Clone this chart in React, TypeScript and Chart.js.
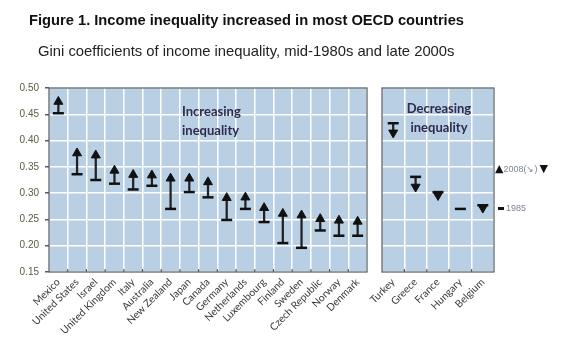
import React, { useEffect, useRef } from "react";
import { Chart, registerables } from "chart.js";

Chart.register(...registerables);

// ---------- data ----------
const increasingCountries = [
  "Mexico", "United States", "Israel", "United Kingdom", "Italy", "Australia",
  "New Zealand", "Japan", "Canada", "Germany", "Netherlands", "Luxembourg",
  "Finland", "Sweden", "Czech Republic", "Norway", "Denmark",
];
const increasingMid1980s = [
  0.452, 0.336, 0.325, 0.318, 0.307, 0.314, 0.270, 0.302, 0.292, 0.249, 0.270,
  0.245, 0.205, 0.196, 0.229, 0.219, 0.219,
];
const increasingLate2000s = [
  0.474, 0.376, 0.372, 0.343, 0.335, 0.334, 0.328, 0.328, 0.321, 0.291, 0.292,
  0.272, 0.261, 0.258, 0.251, 0.248, 0.246,
];

const decreasingCountries = ["Turkey", "Greece", "France", "Hungary", "Belgium"];
const decreasingMid1980s = [0.433, 0.331, 0.302, 0.270, 0.277];
const decreasingLate2000s: (number | null)[] = [0.415, 0.312, 0.296, null, 0.272];

const yTickValues = [0.15, 0.2, 0.25, 0.3, 0.35, 0.4, 0.45, 0.5];

// ---------- styles ----------
const PLOT_BG = "#b9cfe4";
const FRAME = "#555a60";
const MARK = "#111111";

const framePlugin = {
  id: "frameAndBg",
  beforeDraw(chart: any) {
    const { ctx, chartArea: a } = chart;
    ctx.save();
    ctx.fillStyle = PLOT_BG;
    ctx.fillRect(a.left, a.top, a.right - a.left, a.bottom - a.top);
    ctx.restore();
  },
  afterDraw(chart: any) {
    const { ctx, chartArea: a } = chart;
    const xs = chart.scales.x;
    ctx.save();
    ctx.strokeStyle = FRAME;
    ctx.lineWidth = 1.2;
    ctx.strokeRect(a.left, a.top, a.right - a.left, a.bottom - a.top);
    const n = xs.ticks.length;
    for (let i = 1; i < n; i++) {
      const x = (xs.getPixelForTick(i - 1) + xs.getPixelForTick(i)) / 2;
      ctx.beginPath();
      ctx.moveTo(x, a.bottom);
      ctx.lineTo(x, a.bottom - 3);
      ctx.stroke();
    }
    ctx.restore();
  },
};

function makeConfig(
  labels: string[],
  v85: (number | null)[],
  v08: (number | null)[],
  padLeft: number,
  padRight: number,
  showY: boolean
): any {
  const stems = labels.map((_, i) => {
    const a = v85[i];
    const b = v08[i];
    if (a == null || b == null) return null;
    return [Math.min(a, b), Math.max(a, b)];
  });
  return {
    type: "bar",
    data: {
      labels,
      datasets: [
        {
          type: "line",
          label: "1985",
          data: v85,
          showLine: false,
          pointStyle: "line",
          pointRadius: 5.5,
          pointHoverRadius: 5.5,
          pointBorderColor: MARK,
          pointBorderWidth: 2.5,
          order: 0,
        },
        {
          type: "line",
          label: "2008",
          data: v08,
          showLine: false,
          pointStyle: "triangle",
          pointRadius: 5.2,
          pointHoverRadius: 5.2,
          pointBackgroundColor: MARK,
          pointBorderColor: MARK,
          pointBorderWidth: 1,
          pointRotation: (ctx: any) => {
            const i = ctx.dataIndex;
            const a = v85[i];
            const b = v08[i];
            return a != null && b != null && b < a ? 180 : 0;
          },
          order: 1,
        },
        {
          type: "bar",
          label: "change",
          data: stems,
          backgroundColor: "#222222",
          borderWidth: 0,
          barThickness: 1.6,
          order: 2,
        },
      ],
    },
    options: {
      responsive: false,
      animation: false,
      events: [],
      layout: { padding: { left: padLeft, right: padRight, top: 88, bottom: 0 } },
      plugins: {
        legend: { display: false },
        tooltip: { enabled: false },
        title: { display: false },
      },
      scales: {
        x: {
          type: "category",
          offset: true,
          grid: { color: "#ffffff", lineWidth: 1.5, offset: true, drawTicks: false },
          border: { display: false },
          ticks: {
            autoSkip: false,
            minRotation: 45,
            maxRotation: 45,
            padding: 4,
            color: "#3a3a3a",
            font: { family: "Lato, 'Open Sans', sans-serif", size: 10.3 },
          },
          afterFit: (s: any) => {
            s.height = 77;
          },
        },
        y: {
          min: 0.15,
          max: 0.5,
          afterBuildTicks: (s: any) => {
            s.ticks = yTickValues.map((v) => ({ value: v }));
          },
          grid: {
            color: "#ffffff",
            lineWidth: 1.5,
            drawTicks: showY,
            tickLength: 4,
            tickColor: FRAME,
          },
          border: { display: false },
          ticks: {
            display: showY,
            padding: 6,
            color: "#5e5b3e",
            font: { family: "'Liberation Sans', Arial, sans-serif", size: 10 },
            callback: (v: any) => Number(v).toFixed(2),
          },
          afterFit: (s: any) => {
            s.width = showY ? 49 : 0;
          },
        },
      },
    },
    plugins: [framePlugin],
  };
}

export default function App() {
  const leftRef = useRef<HTMLCanvasElement>(null);
  const rightRef = useRef<HTMLCanvasElement>(null);

  useEffect(() => {
    const c1 = new Chart(
      leftRef.current as HTMLCanvasElement,
      makeConfig(increasingCountries, increasingMid1980s, increasingLate2000s, 0, 203, true)
    );
    const c2 = new Chart(
      rightRef.current as HTMLCanvasElement,
      makeConfig(decreasingCountries, decreasingMid1980s, decreasingLate2000s, 382, 76, false)
    );
    return () => {
      c1.destroy();
      c2.destroy();
    };
  }, []);

  const canvasStyle: React.CSSProperties = { position: "absolute", left: 0, top: 0 };
  const annot: React.CSSProperties = {
    position: "absolute",
    fontFamily: "Lato, 'Open Sans', sans-serif",
    fontWeight: 700,
    fontSize: 13,
    lineHeight: "19px",
    color: "#2f2b4d",
    whiteSpace: "nowrap",
  };

  return (
    <div
      style={{
        position: "absolute",
        left: 0,
        top: 0,
        width: 570,
        height: 349,
        background: "#ffffff",
        overflow: "hidden",
        fontFamily: "'Liberation Sans', Arial, sans-serif",
      }}
    >
      <canvas ref={leftRef} width={570} height={349} style={canvasStyle} />
      <canvas ref={rightRef} width={570} height={349} style={canvasStyle} />

      <div
        style={{
          position: "absolute",
          left: 29,
          top: 12,
          fontSize: 14.7,
          lineHeight: "17px",
          fontWeight: 700,
          color: "#111",
          whiteSpace: "nowrap",
        }}
      >
        Figure 1. Income inequality increased in most OECD countries
      </div>
      <div
        style={{
          position: "absolute",
          left: 38,
          top: 43,
          fontSize: 14.8,
          lineHeight: "17px",
          color: "#222",
          whiteSpace: "nowrap",
        }}
      >
        Gini coefficients of income inequality, mid-1980s and late 2000s
      </div>

      <div style={{ ...annot, left: 182, top: 102 }}>
        Increasing
        <br />
        inequality
      </div>
      <div style={{ ...annot, left: 389, top: 99, width: 100, textAlign: "center" }}>
        Decreasing
        <br />
        inequality
      </div>

      <div
        style={{
          position: "absolute",
          left: 495,
          top: 162,
          lineHeight: "14px",
          whiteSpace: "nowrap",
          fontSize: 9,
          color: "#7b8597",
        }}
      >
        <span style={{ fontFamily: "'DejaVu Sans'", fontSize: 11, color: MARK }}>▲</span>
        <span>2008(↘)</span>
        <span style={{ fontFamily: "'DejaVu Sans'", fontSize: 11, color: MARK, marginLeft: 2 }}>▼</span>
      </div>
      <div
        style={{
          position: "absolute",
          left: 498,
          top: 201,
          lineHeight: "14px",
          whiteSpace: "nowrap",
          fontSize: 9,
          color: "#7b8597",
        }}
      >
        <span
          style={{
            display: "inline-block",
            width: 6,
            height: 2.5,
            background: MARK,
            verticalAlign: "middle",
            marginRight: 2,
          }}
        />
        <span>1985</span>
      </div>
    </div>
  );
}
